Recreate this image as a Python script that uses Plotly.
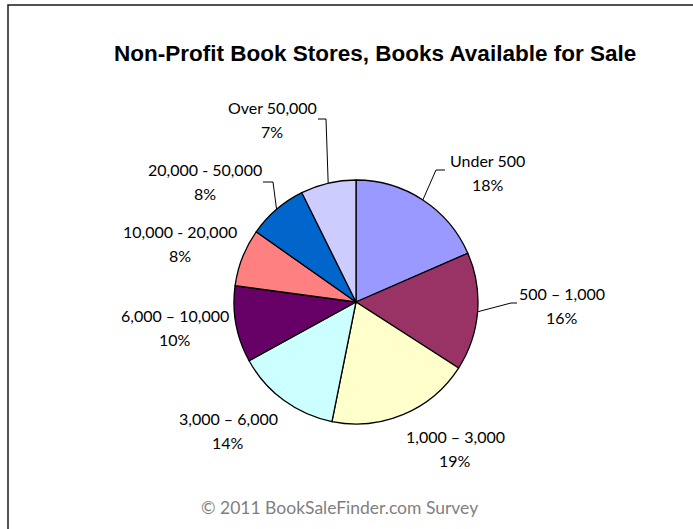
import math
import plotly.graph_objects as go

# ---- data ----
categories = ["Under 500", "500 – 1,000", "1,000 – 3,000", "3,000 – 6,000",
              "6,000 – 10,000", "10,000 - 20,000", "20,000 - 50,000", "Over 50,000"]
values = [18.4, 15.6, 19.0, 13.8, 10.1, 7.6, 7.9, 7.3]
colors = ["#9999FF", "#993366", "#FFFFCC", "#CCFFFF",
          "#660066", "#FF8080", "#0066CC", "#CCCCFF"]
title_text = "Non-Profit Book Stores, Books Available for Sale"
footer_text = "© 2011 BookSaleFinder.com Survey"

# ---- layout settings (pixels) ----
W, H = 693, 529
cx, cy, r = 356, 302, 122
# label block centre (x, y) for each slice
label_pos = [(488, 172), (562, 305), (455, 448), (228, 430),
             (175, 327), (180, 244), (205, 182), (272, 120)]
half_gap = 12
# leader lines: (elbow point, end point) for slices that have them
leaders = {0: ((436, 170), (445, 170)),
           1: ((511, 303), (517, 303)),
           6: ((273, 182), (263, 182)),
           7: ((326, 119), (318, 119))}

def px(x):
    return x / W

def py(y):
    return 1 - y / H

total = sum(values)
fig = go.Figure(go.Pie(
    labels=categories, values=values, sort=False, direction="clockwise",
    rotation=0, textinfo="none", hoverinfo="label+percent",
    marker=dict(colors=colors, line=dict(color="#000000", width=1.3)),
    domain=dict(x=[px(cx - r), px(cx + r)], y=[py(cy + r), py(cy - r)]),
    showlegend=False,
))

font_lbl = dict(family="Lato, Carlito, Calibri, sans-serif", size=16, color="#000000")
annotations = []
shapes = []
cum = 0
for i, (cat, v) in enumerate(zip(categories, values)):
    mid = (cum + v / 2) / total * 360
    cum += v
    pct = round(v / total * 100)
    lx, ly = label_pos[i]
    annotations.append(dict(x=px(lx), y=py(ly - half_gap), xref="paper", yref="paper",
                            text=cat, showarrow=False, font=font_lbl,
                            xanchor="center", yanchor="middle"))
    annotations.append(dict(x=px(lx), y=py(ly + half_gap), xref="paper", yref="paper",
                            text=f"{pct}%", showarrow=False, font=font_lbl,
                            xanchor="center", yanchor="middle"))
    if i in leaders:
        a = math.radians(mid)
        sx, sy = cx + r * math.sin(a), cy - r * math.cos(a)
        (ex, ey), (fx, fy) = leaders[i]
        shapes.append(dict(type="path", xref="paper", yref="paper",
                           path=f"M {px(sx)} {py(sy)} L {px(ex)} {py(ey)} L {px(fx)} {py(fy)}",
                           line=dict(color="#000000", width=1)))

annotations.append(dict(x=px(375), y=py(54), xref="paper", yref="paper",
                        text=f"<b>{title_text}</b>", showarrow=False,
                        font=dict(family="Liberation Sans, Arial, sans-serif", size=22.5, color="#000000"),
                        xanchor="center", yanchor="middle"))
annotations.append(dict(x=px(480), y=py(507), xref="paper", yref="paper",
                        text=footer_text, showarrow=False,
                        font=dict(family="Lato, Carlito, Calibri, sans-serif", size=17.5, color="#7F7F7F"),
                        xanchor="right", yanchor="middle"))

shapes.append(dict(type="rect", xref="paper", yref="paper",
                   x0=px(8), x1=1.05, y0=-0.05, y1=py(5),
                   line=dict(color="#1a1a1a", width=1.5), fillcolor="rgba(0,0,0,0)"))

fig.update_layout(width=W, height=H, margin=dict(l=0, r=0, t=0, b=0),
                  paper_bgcolor="#FFFFFF", plot_bgcolor="#FFFFFF",
                  annotations=annotations, shapes=shapes)
fig.write_html("out.html", config={"displayModeBar": False},
               post_script="document.body.style.margin='0';document.body.style.overflow='hidden';")
